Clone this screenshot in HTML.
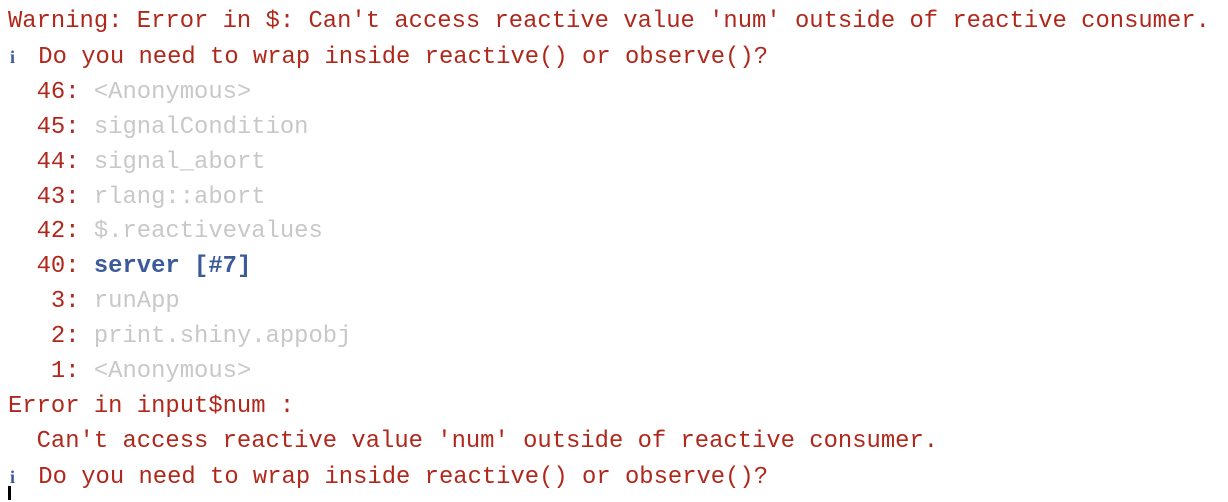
<!DOCTYPE html>
<html><head><style>
html,body{margin:0;padding:0;background:#fff;width:1228px;height:502px;overflow:hidden}
pre{margin:0;position:absolute;left:8px;top:5px;font-family:"Liberation Mono",monospace;font-size:23.85px;line-height:34.9px;color:#b0281c}
.g{color:#c8c8c8}
.b{color:#3a5a9a;font-weight:bold}
.i{display:inline-block;width:14px;padding-left:2px;text-align:left;color:#3a5a9a;font-family:"Liberation Serif",serif;font-weight:bold;font-size:18px}
.cur{position:absolute;left:8px;top:486px;width:3px;height:14px;background:#000}
</style></head><body>
<pre>Warning: Error in $: Can't access reactive value 'num' outside of reactive consumer.
<span class="i">i</span> Do you need to wrap inside reactive() or observe()?
  46: <span class="g">&lt;Anonymous&gt;</span>
  45: <span class="g">signalCondition</span>
  44: <span class="g">signal_abort</span>
  43: <span class="g">rlang::abort</span>
  42: <span class="g">$.reactivevalues</span>
  40: <span class="b">server [#7]</span>
   3: <span class="g">runApp</span>
   2: <span class="g">print.shiny.appobj</span>
   1: <span class="g">&lt;Anonymous&gt;</span>
Error in input$num :
  Can't access reactive value 'num' outside of reactive consumer.
<span class="i">i</span> Do you need to wrap inside reactive() or observe()?</pre>
<div class="cur"></div>
</body></html>
